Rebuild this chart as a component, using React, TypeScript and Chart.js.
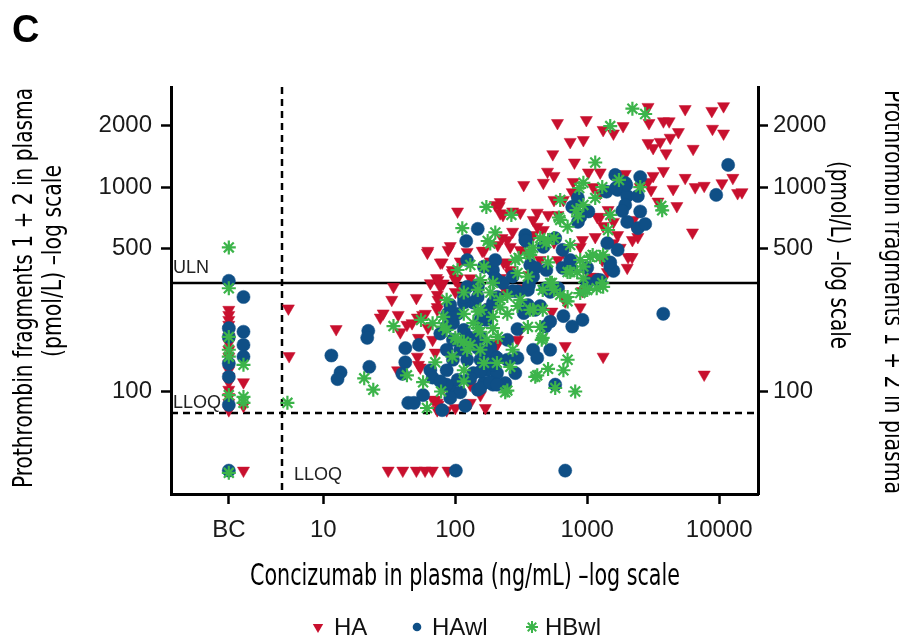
import React, { useEffect, useRef } from 'react';
import { Chart, registerables } from 'chart.js';

Chart.register(...registerables);

// ---------- axes ----------
const BC_X = 1.92;
const X_TICKS = [BC_X, 10, 100, 1000, 10000];
const X_TICK_LABELS = ['BC', '10', '100', '1000', '10000'];
const Y_TICKS = [100, 500, 1000, 2000];
const X_MIN = 0.706;
const X_MAX = 19700;
const Y_MIN = 31.5;
const Y_MAX = 3090;

// ---------- reference lines ----------
const ULN = 341;
const LLOQ_Y = 78.5;
const LLOQ_X = 4.85;
const BELOW_LLOQ = 41;

// ---------- series: [concizumab ng/mL, F1+2 pmol/L] ----------
const HA: [number, number][] = [
  [1.92, 251], [1.92, 237], [1.92, 224], [1.92, 212], [1.92, 200], [1.92, 185], [1.92, 172], [1.92, 160],
  [1.92, 148], [1.92, 137], [1.92, 127], [1.92, 118], [1.92, 111], [1.92, 102], [1.92, 94], [1.92, 88],
  [1.92, 81], [2.48, 111], [2.48, 85],
  [2.48, 41], [31, 41], [40, 41], [50.7, 41], [59, 41], [67, 41], [88, 41],
  [5.43, 255], [5.5, 149], [12.5, 202],
  [34, 325], [33, 281], [50.7, 287], [27, 230], [36.9, 237], [43, 212], [51.6, 230], [61.4, 478], [77, 428],
  [88.4, 493], [104, 760], [59.3, 240], [62, 205], [51.6, 148], [52.6, 135], [73, 297], [73, 251], [81, 338],
  [68, 91], [73, 81], [79.5, 428], [109, 433], [184, 433], [232, 428], [28.4, 241], [47, 216], [56.5, 237],
  [64.7, 339], [72, 359], [95, 380], [100, 351], [109, 325], [100, 307], [77, 325], [52.6, 183], [54.3, 131],
  [67.3, 179], [70.5, 155], [135, 185], [184, 251], [296, 179], [311, 200], [207, 169], [261, 380], [681, 167],
  [885, 258], [1110, 364], [1320, 148], [100, 83], [130, 88], [73, 88], [36.5, 127],
  [62, 488], [91.6, 515], [95, 393], [104, 358], [130, 358], [160, 488], [123, 482], [210, 521], [201, 818],
  [219, 745], [74, 351], [38.3, 195], [70.5, 91], [74, 86], [73, 259], [74, 281], [184, 258], [210, 173], [81, 104],
  [548, 1450], [800, 1320], [500, 1190], [560, 1135], [330, 1025], [465, 1050], [1020, 1180], [1254, 1180],
  [784, 1060], [1110, 1000], [1941, 1160], [1254, 935], [770, 945], [660, 866], [560, 866], [219, 845],
  [272, 760], [311, 750], [418, 750], [505, 731], [390, 691], [418, 640], [465, 617], [600, 731], [1440, 773],
  [1580, 676], [2240, 691], [1254, 715], [1700, 583], [2200, 551], [2040, 455], [1150, 570], [920, 551],
  [885, 510], [226, 563], [248, 551], [272, 605], [390, 583], [560, 538], [261, 510], [311, 493], [355, 478],
  [440, 440], [248, 428], [600, 440], [219, 359], [261, 393], [362, 372], [660, 482], [1300, 440], [1420, 384],
  [1054, 364], [2010, 403], [239, 314], [330, 320], [600, 314], [920, 310], [219, 297],
  [2890, 2470], [5526, 2410], [8800, 2360], [10800, 2490], [595, 2060], [985, 2130], [1870, 1990], [2940, 2060],
  [3780, 2100], [4180, 2100], [4910, 1860], [8900, 1930], [10800, 1830], [1580, 1830], [1320, 1905], [743, 1665],
  [935, 1700], [2890, 1645], [3573, 1665], [4254, 1745], [3160, 1555], [3960, 1465], [6350, 1540], [3160, 1135],
  [3780, 1200], [5526, 1110], [6580, 1000], [7700, 1015], [10500, 1045], [12700, 1110], [13800, 935], [14900, 945],
  [4480, 980], [2521, 1000], [2890, 1060], [3050, 969], [6280, 600], [4780, 808], [3440, 850], [215, 808],
  [230, 731], [1190, 715], [1320, 645], [2310, 630], [2420, 570], [165, 488], [1580, 532], [1778, 505], [2190, 455],
  [7700, 121], [155, 96], [130, 108], [169, 83], [86, 81], [540, 246], [681, 276],
];

const HAWL: [number, number][] = [
  [1.92, 348], [1.92, 204], [1.92, 185], [1.92, 137], [1.92, 118], [1.92, 86],
  [2.48, 290], [2.48, 196], [2.48, 169], [2.48, 148],
  [1.92, 41], [101, 41], [681, 41],
  [11.5, 150], [13.5, 124], [12.8, 115], [21.9, 198], [21.5, 183], [22.3, 132], [41.8, 163], [41.8, 139],
  [39.7, 122], [53, 169], [57, 96], [44, 88], [48.6, 88],
  [79.5, 81], [119, 85], [64.7, 127], [67.3, 117], [86, 127], [91.6, 105], [104, 114], [109, 99], [137, 123],
  [148, 102], [165, 110], [193, 108], [239, 110], [173, 127], [207, 123], [285, 123], [248, 143], [296, 146],
  [201, 148], [155, 143], [123, 143], [96, 143], [86, 160], [109, 160], [148, 163], [184, 165], [248, 179],
  [96, 179], [123, 185], [155, 185], [86, 208], [116, 200], [173, 224], [296, 202], [389, 160], [418, 146],
  [524, 160], [572, 108], [660, 234], [920, 224], [770, 208], [481, 208], [524, 220], [330, 242], [296, 309],
  [404, 251], [173, 251], [137, 272], [116, 272], [104, 240], [87.5, 240], [96, 216], [123, 325], [148, 325],
  [207, 351], [230, 340], [193, 393], [272, 365], [355, 314], [389, 365], [370, 416], [490, 393], [481, 320],
  [650, 403], [743, 408], [1000, 403], [1200, 351], [1494, 408], [1580, 389], [3770, 240], [440, 262], [193, 272],
  [77, 192], [96, 237], [91.6, 265], [116, 290], [148, 290], [207, 290], [155, 224], [130, 183], [173, 157],
  [116, 163], [207, 146], [155, 125], [155, 104], [91.6, 93], [184, 111], [207, 108], [130, 116], [193, 135],
  [86, 108], [77, 112],
  [148, 625], [121, 545], [123, 440], [201, 440], [165, 408], [201, 358], [148, 332],
  [1630, 1147], [1941, 1050], [1700, 969], [1400, 950], [2010, 905], [1941, 818], [2010, 676], [850, 885],
  [770, 800], [1020, 760], [885, 715], [2420, 905], [2420, 630], [339, 583], [339, 551], [572, 563], [465, 510],
  [650, 493], [1420, 532], [1700, 493], [1494, 428], [743, 440], [404, 403], [1254, 351], [1000, 340], [600, 320],
  [362, 332], [524, 307],
  [11700, 1284], [9500, 916], [2521, 1120], [1980, 1025], [1650, 990], [1840, 765], [2521, 760], [2751, 660],
  [850, 676], [345, 545], [355, 265], [272, 310],
];

const HBWL: [number, number][] = [
  [1.92, 507], [1.92, 320], [1.92, 185], [1.92, 160], [1.92, 148], [1.92, 96], [1.92, 40],
  [2.48, 135], [2.48, 94], [2.48, 88],
  [5.34, 88], [20.4, 116], [23.9, 102], [34, 209], [43, 120], [61, 83], [57, 111], [78, 100], [70.5, 139],
  [55, 224], [81, 208],
  [95, 148], [116, 127], [165, 138], [207, 138], [261, 132], [239, 99], [418, 120], [505, 129], [660, 127],
  [710, 143], [572, 104], [811, 100], [86, 200], [104, 179], [123, 160], [155, 160], [173, 179], [210, 185],
  [272, 160], [460, 183], [81, 232], [67.3, 216], [86, 281], [116, 240], [137, 216], [155, 251], [193, 232],
  [248, 240], [296, 262], [370, 251], [460, 251], [560, 314], [710, 290], [885, 303], [1000, 314], [1180, 320],
  [1320, 325], [840, 384], [710, 384], [524, 340], [460, 314], [355, 365], [296, 380], [248, 293], [184, 305],
  [155, 351], [148, 314], [116, 305], [104, 393], [130, 416], [165, 408], [193, 340], [219, 281], [311, 281],
  [505, 428], [935, 408],
  [172, 800], [113, 630], [201, 600], [176, 545],
  [100, 183], [116, 175], [130, 169], [155, 196], [148, 204], [193, 204], [248, 101], [148, 246], [219, 258],
  [116, 112],
  [1150, 1320], [935, 1050], [1300, 1000], [1150, 885], [1740, 1084], [624, 866], [830, 773], [850, 720],
  [266, 731], [624, 691], [710, 640], [1494, 731], [1440, 617], [440, 563], [505, 551], [560, 563], [743, 521],
  [389, 505], [302, 450], [370, 466], [885, 440], [1054, 455], [1254, 455], [1300, 340], [935, 358], [743, 384],
  [540, 340], [624, 297],
  [2200, 2420], [2750, 2280], [1494, 1990], [2521, 1000], [870, 990], [935, 818], [610, 710], [3640, 808],
  [3700, 770], [184, 530], [490, 532], [362, 478], [285, 440], [1100, 466], [1320, 466],
  [710, 276], [389, 251], [440, 207], [355, 207], [452, 179], [404, 118], [966, 314],
];

// ---------- text ----------
const PANEL_LETTER = 'C';
const X_TITLE = 'Concizumab in plasma (ng/mL) \u2013log scale';
const Y_TITLE = ['Prothrombin fragments 1 + 2 in plasma', '(pmol/L) \u2013log scale'];
const SERIES_NAMES = ['HA', 'HAwl', 'HBwl'];

const RED = '#c8102e';
const BLUE = '#0f4f86';
const GREEN = '#3cb44a';

const SANS = '"Liberation Sans", Arial, Helvetica, sans-serif';
const COND = '"Liberation Sans Narrow", "DejaVu Sans Condensed", "Roboto Condensed", "Liberation Sans", sans-serif';

function fitText(
  ctx: CanvasRenderingContext2D, text: string, cx: number, cy: number,
  width: number, rot: number, font: string
) {
  ctx.save();
  ctx.font = font;
  const w = ctx.measureText(text).width;
  ctx.translate(cx, cy);
  ctx.rotate(rot);
  ctx.scale(width / w, 1);
  ctx.textAlign = 'center';
  ctx.textBaseline = 'middle';
  ctx.fillText(text, 0, 0);
  ctx.restore();
}

function drawMarker(ctx: CanvasRenderingContext2D, kind: number, x: number, y: number) {
  ctx.save();
  if (kind === 0) {
    const r = 6;
    ctx.fillStyle = RED;
    ctx.beginPath();
    ctx.moveTo(x, y + r);
    ctx.lineTo(x - r * 0.866, y - r / 2);
    ctx.lineTo(x + r * 0.866, y - r / 2);
    ctx.closePath();
    ctx.fill();
  } else if (kind === 1) {
    ctx.fillStyle = BLUE;
    ctx.beginPath();
    ctx.arc(x, y, 4.3, 0, Math.PI * 2);
    ctx.fill();
  } else {
    ctx.strokeStyle = GREEN;
    ctx.lineWidth = 2;
    const r = 6;
    ctx.beginPath();
    for (let i = 0; i < 4; i++) {
      const a = (i * Math.PI) / 4;
      ctx.moveTo(x - Math.sin(a) * r, y - Math.cos(a) * r);
      ctx.lineTo(x + Math.sin(a) * r, y + Math.cos(a) * r);
    }
    ctx.stroke();
  }
  ctx.restore();
}

const decorPlugin = {
  id: 'decor',
  beforeDatasetsDraw(chart: any) {
    const { ctx, chartArea } = chart;
    const { left, right, top, bottom } = chartArea;
    const xs = chart.scales.x;
    const ys = chart.scales.y;
    ctx.save();
    ctx.strokeStyle = '#000';
    ctx.lineWidth = 2.5;
    const yU = Math.round(ys.getPixelForValue(ULN));
    ctx.beginPath();
    ctx.moveTo(left, yU);
    ctx.lineTo(right, yU);
    ctx.stroke();
    ctx.setLineDash([7, 5]);
    const yL = Math.round(ys.getPixelForValue(LLOQ_Y));
    ctx.beginPath();
    ctx.moveTo(left, yL);
    ctx.lineTo(right, yL);
    ctx.stroke();
    const xL = Math.round(xs.getPixelForValue(LLOQ_X));
    ctx.beginPath();
    ctx.moveTo(xL, top);
    ctx.lineTo(xL, bottom);
    ctx.stroke();
    ctx.restore();
  },
  afterDraw(chart: any) {
    const { ctx, chartArea } = chart;
    const { left } = chartArea;
    const xs = chart.scales.x;
    const ys = chart.scales.y;
    ctx.save();
    ctx.fillStyle = '#000';
    ctx.textAlign = 'left';
    ctx.textBaseline = 'alphabetic';
    ctx.font = `bold 38px ${SANS}`;
    ctx.fillText(PANEL_LETTER, 12, 42);

    ctx.fillStyle = '#222';
    ctx.font = `18px ${SANS}`;
    ctx.fillText('ULN', left + 2, ys.getPixelForValue(ULN) - 10);
    ctx.fillText('LLOQ', left + 2, ys.getPixelForValue(LLOQ_Y) - 5);
    ctx.fillText('LLOQ', xs.getPixelForValue(LLOQ_X) + 12, ys.getPixelForValue(BELOW_LLOQ) + 9);

    ctx.fillStyle = '#000';
    fitText(ctx, X_TITLE, 465, 577, 430, 0, `31px ${COND}`);
    fitText(ctx, Y_TITLE[0], 25, 288, 400, -Math.PI / 2, `27px ${COND}`);
    fitText(ctx, Y_TITLE[1], 54, 261, 192, -Math.PI / 2, `27px ${COND}`);
    fitText(ctx, Y_TITLE[0], 892, 292, 404, Math.PI / 2, `27px ${COND}`);
    fitText(ctx, Y_TITLE[1], 838, 255, 188, Math.PI / 2, `27px ${COND}`);

    // legend
    const legendY = 627;
    const items = [
      { mx: 318, tx: 334 },
      { mx: 417, tx: 432 },
      { mx: 532, tx: 545 },
    ];
    ctx.font = `24px ${SANS}`;
    ctx.textBaseline = 'middle';
    items.forEach((it, i) => {
      drawMarker(ctx, i, it.mx, legendY);
      ctx.fillStyle = '#111';
      ctx.fillText(SERIES_NAMES[i], it.tx, legendY + 1);
    });
    ctx.restore();
  },
};

const tickFont = { family: SANS, size: 24 };

function makeYScale(position: 'left' | 'right', width: number, padding: number) {
  return {
    type: 'logarithmic' as const,
    position,
    min: Y_MIN,
    max: Y_MAX,
    afterFit(scale: any) {
      scale.width = width;
    },
    afterBuildTicks(scale: any) {
      scale.ticks = Y_TICKS.map((v) => ({ value: v }));
    },
    ticks: {
      callback: (v: any) => String(v),
      font: tickFont,
      color: '#1a1a1a',
      padding,
      autoSkip: false,
    },
    grid: {
      drawOnChartArea: false,
      drawTicks: true,
      tickLength: 10,
      tickWidth: 2.5,
      tickColor: '#000',
    },
    border: { display: true, color: '#000', width: 3 },
  };
}

export default function App() {
  const ref = useRef<HTMLCanvasElement | null>(null);

  useEffect(() => {
    document.body.style.margin = '0';
    const canvas = ref.current;
    if (!canvas) return;
    const chart = new Chart(canvas, {
      type: 'scatter',
      data: {
        datasets: [
          {
            label: SERIES_NAMES[0],
            data: HA.map(([x, y]) => ({ x, y })),
            pointStyle: 'triangle',
            pointRotation: 180,
            pointRadius: 7,
            pointBackgroundColor: RED,
            pointBorderColor: RED,
            pointBorderWidth: 0.5,
            order: 3,
          } as any,
          {
            label: SERIES_NAMES[1],
            data: HAWL.map(([x, y]) => ({ x, y })),
            pointStyle: 'circle',
            pointRadius: 6.6,
            pointBackgroundColor: BLUE,
            pointBorderColor: BLUE,
            pointBorderWidth: 0.5,
            order: 2,
          } as any,
          {
            label: SERIES_NAMES[2],
            data: HBWL.map(([x, y]) => ({ x, y })),
            pointStyle: 'star',
            pointRadius: 7,
            pointBackgroundColor: GREEN,
            pointBorderColor: GREEN,
            pointBorderWidth: 2.2,
            order: 1,
          } as any,
        ],
      },
      options: {
        animation: false,
        responsive: false,
        maintainAspectRatio: false,
        layout: { padding: { top: 87, left: 0, right: 0, bottom: 0 } },
        plugins: {
          legend: { display: false },
          tooltip: { enabled: false },
          title: { display: false },
        },
        scales: {
          x: {
            type: 'logarithmic',
            position: 'bottom',
            min: X_MIN,
            max: X_MAX,
            afterFit(scale: any) {
              scale.height = 145;
            },
            afterBuildTicks(scale: any) {
              scale.ticks = X_TICKS.map((v) => ({ value: v }));
            },
            ticks: {
              callback: (_v: any, i: number) => X_TICK_LABELS[i],
              font: tickFont,
              color: '#1a1a1a',
              padding: 12,
              autoSkip: false,
              maxRotation: 0,
            },
            grid: {
              drawOnChartArea: false,
              drawTicks: true,
              tickLength: 10,
              tickWidth: 2.5,
              tickColor: '#000',
            },
            border: { display: true, color: '#000', width: 3 },
          },
          y: makeYScale('left', 171, 9),
          y2: makeYScale('right', 141, 5),
        } as any,
      },
      plugins: [decorPlugin],
    });
    return () => chart.destroy();
  }, []);

  return (
    <canvas
      ref={ref}
      width={899}
      height={639}
      style={{ display: 'block', width: 899, height: 639 }}
    />
  );
}
